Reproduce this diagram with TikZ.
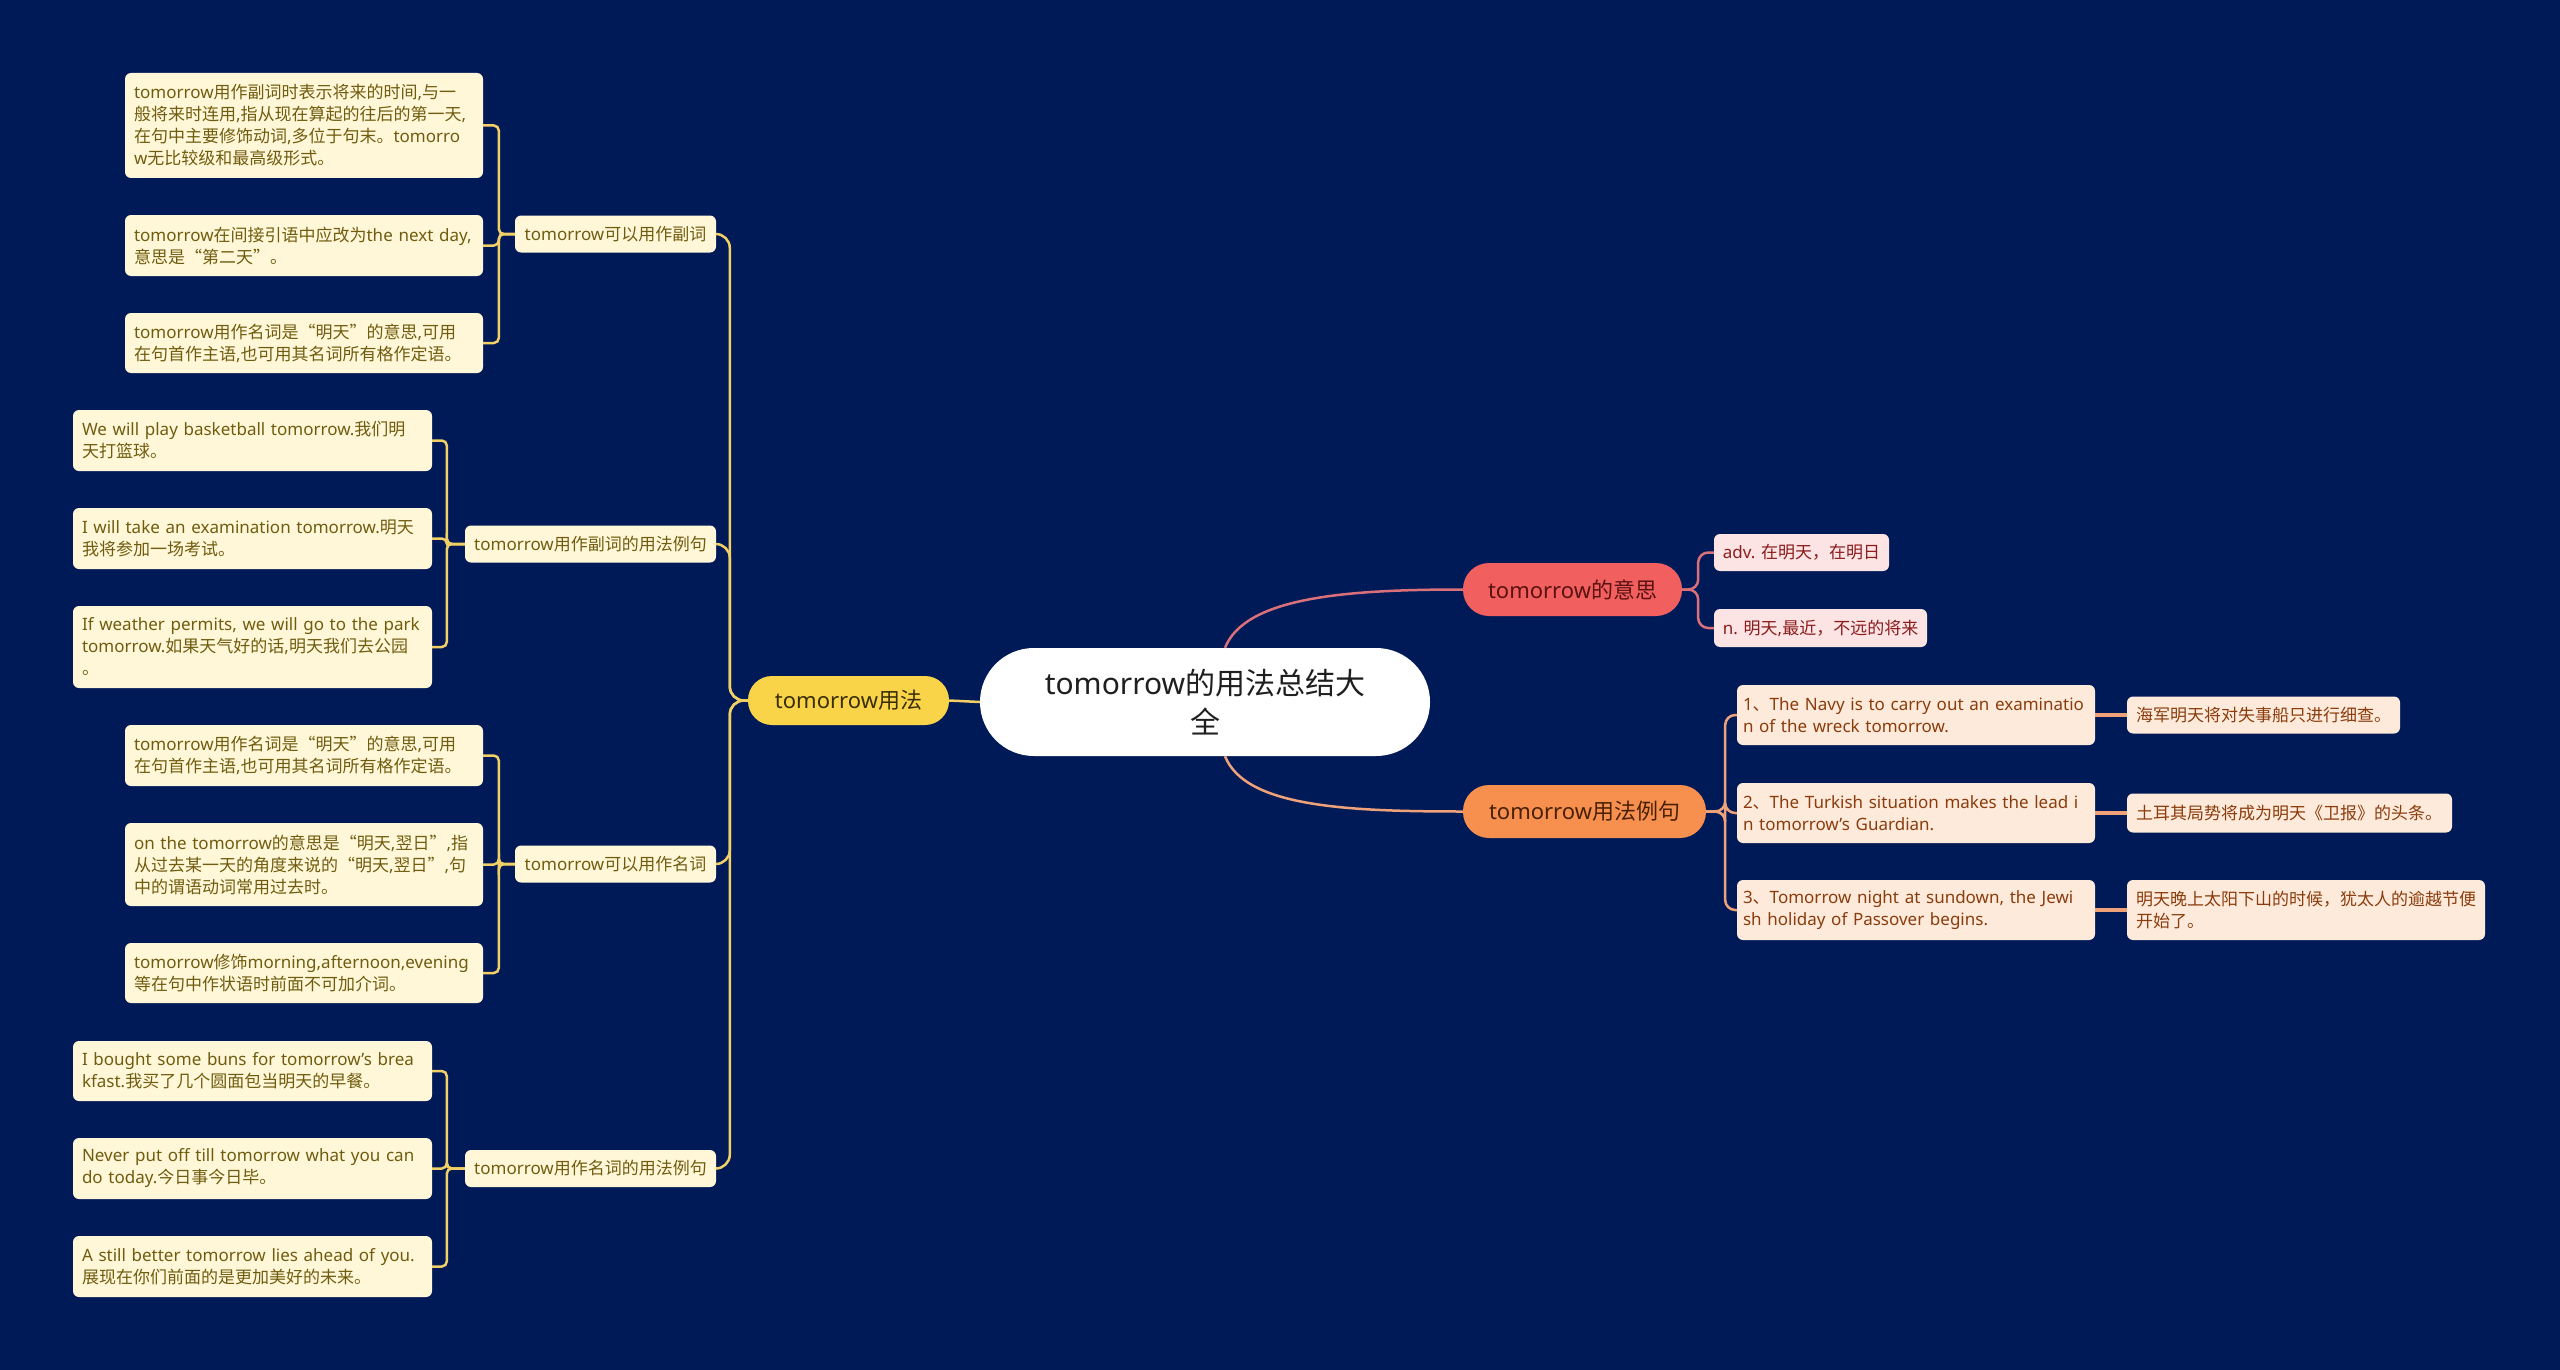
\documentclass[tikz,border=0pt]{standalone}
\usepackage{fontspec}
\setmainfont{Noto Sans}
\newfontfamily\cjkfont{Noto Sans CJK SC}
\newcount\cjkn
\newXeTeXintercharclass\cjkcls
\def\cjkrange#1#2{\cjkn=#1\relax\loop\ifnum\cjkn<#2\relax\XeTeXcharclass\cjkn=\cjkcls\advance\cjkn by 1\relax\repeat}
\cjkrange{"3000}{"3040}
\cjkrange{"4E00}{"A000}
\cjkrange{"FF00}{"FFF0}
\XeTeXcharclass"201C=\cjkcls
\XeTeXcharclass"201D=\cjkcls
\XeTeXinterchartoks 0 \cjkcls = {\cjkfont}
\XeTeXinterchartoks 4095 \cjkcls = {\cjkfont}
\XeTeXinterchartoks \cjkcls 0 = {\rmfamily}
\XeTeXinterchartoks \cjkcls 4095 = {\rmfamily}
\XeTeXinterchartokenstate=1
\hyphenpenalty=10000
\exhyphenpenalty=10000
\newcommand\leaffont{\fontsize{17}{22}\selectfont}
\definecolor{bgc}{HTML}{001A57}
\definecolor{cream}{HTML}{FFF7D7}
\definecolor{olivet}{HTML}{705C10}
\definecolor{ymain}{HTML}{F9D449}
\definecolor{ymaint}{HTML}{3A2E05}
\definecolor{ylinec}{HTML}{F2D065}
\definecolor{rmain}{HTML}{F25F5F}
\definecolor{rmaint}{HTML}{5A1212}
\definecolor{pinkf}{HTML}{FDE4E4}
\definecolor{pinkt}{HTML}{8A1C1C}
\definecolor{rlinec}{HTML}{D9707A}
\definecolor{omain}{HTML}{F7904E}
\definecolor{omaint}{HTML}{4A2005}
\definecolor{peachf}{HTML}{FEEADB}
\definecolor{peacht}{HTML}{8A3C0C}
\definecolor{olinec}{HTML}{EFA27A}
\tikzset{
  centerbox/.style={fill=white, text=black!88, rounded corners=53.9, minimum width=450, minimum height=108, align=center, inner sep=0, font=\fontsize{30}{39}\selectfont},
  pill/.style={rounded corners=26, minimum height=53, inner sep=0, font=\fontsize{22}{26}\selectfont},
  midbox/.style={fill=cream, text=olivet, rounded corners=6, minimum height=37, inner sep=0, font=\leaffont},
  leafbox/.style={fill=cream, text=olivet, rounded corners=6, inner xsep=9, inner ysep=0, align=left, font=\leaffont},
  pinkbox/.style={fill=pinkf, text=pinkt, rounded corners=6, inner sep=0, minimum height=37, font=\leaffont},
  peachbox/.style={fill=peachf, text=peacht, rounded corners=6, inner xsep=9, inner ysep=0, align=left, font=\leaffont},
  ylink/.style={draw=ylinec, line width=2.5},
  rlink/.style={draw=rlinec, line width=2.5},
  olink/.style={draw=olinec, line width=2.5},
}
\begin{document}
\begin{tikzpicture}[x=1pt,y=-1pt]
\fill[bgc] (0,0) rectangle (2560,1370);
\useasboundingbox (0,0) rectangle (2560,1370);

% root and main branches
\node[centerbox] (c) at (1205,702) {tomorrow的用法总结大\\全};
\node[pill, fill=ymain, text=ymaint, minimum width=201, minimum height=49, rounded corners=24] (m1) at (848.5,700.5) {tomorrow用法};
\node[pill, fill=rmain, text=rmaint, minimum width=219] (m2) at (1572.5,589.5) {tomorrow的意思};
\node[pill, fill=omain, text=omaint, minimum width=243] (m3) at (1584.5,811.5) {tomorrow用法例句};

% left level 2
\node[midbox, minimum width=201] (A) at (615.5,234) {tomorrow可以用作副词};
\node[midbox, minimum width=251] (B) at (590.5,544) {tomorrow用作副词的用法例句};
\node[midbox, minimum width=201] (C) at (615.5,864) {tomorrow可以用作名词};
\node[midbox, minimum width=251] (D) at (590.5,1168.5) {tomorrow用作名词的用法例句};

% leaves of A
\node[leafbox, text width=340, minimum height=105] (A1) at (304,125.5) {tomorrow用作副词时表示将来的时间,与一\\般将来时连用,指从现在算起的往后的第一天,\\在句中主要修饰动词,多位于句末。tomorro\\w无比较级和最高级形式。};
\node[leafbox, text width=340, minimum height=61] (A2) at (304,245.5) {tomorrow在间接引语中应改为the next day,\\意思是“第二天”。};
\node[leafbox, text width=340, minimum height=60] (A3) at (304,343) {tomorrow用作名词是“明天”的意思,可用\\在句首作主语,也可用其名词所有格作定语。};

% leaves of B
\node[leafbox, text width=341, minimum height=61] (B1) at (252.5,440.5) {We will play basketball tomorrow.我们明\\天打篮球。};
\node[leafbox, text width=341, minimum height=61] (B2) at (252.5,538.5) {I will take an examination tomorrow.明天\\我将参加一场考试。};
\node[leafbox, text width=341, minimum height=82] (B3) at (252.5,647) {If weather permits, we will go to the park\\tomorrow.如果天气好的话,明天我们去公园\\。};

% leaves of C
\node[leafbox, text width=340, minimum height=61] (C1) at (304,755.5) {tomorrow用作名词是“明天”的意思,可用\\在句首作主语,也可用其名词所有格作定语。};
\node[leafbox, text width=340, minimum height=83] (C2) at (304,864.5) {on the tomorrow的意思是“明天,翌日”,指\\从过去某一天的角度来说的“明天,翌日”,句\\中的谓语动词常用过去时。};
\node[leafbox, text width=340, minimum height=60] (C3) at (304,973) {tomorrow修饰morning,afternoon,evening\\等在句中作状语时前面不可加介词。};

% leaves of D
\node[leafbox, text width=341, minimum height=60] (D1) at (252.5,1071) {I bought some buns for tomorrow's brea\\kfast.我买了几个圆面包当明天的早餐。};
\node[leafbox, text width=341, minimum height=61] (D2) at (252.5,1168.5) {Never put off till tomorrow what you can\\do today.今日事今日毕。};
\node[leafbox, text width=341, minimum height=61] (D3) at (252.5,1266.5) {A still better tomorrow lies ahead of you.\\展现在你们前面的是更加美好的未来。};

% right: meaning
\node[pinkbox, minimum width=175] (P1) at (1801.5,552.5) {adv. 在明天，在明日};
\node[pinkbox, minimum width=213, minimum height=38] (P2) at (1820.5,628) {n. 明天,最近，不远的将来};

% right: examples
\node[peachbox, inner xsep=6, text width=346, minimum height=60] (E1) at (1916,715) {1、The Navy is to carry out an examinatio\\n of the wreck tomorrow.};
\node[peachbox, inner xsep=6, text width=346, minimum height=60] (E2) at (1916,813) {2、The Turkish situation makes the lead i\\n tomorrow's Guardian.};
\node[peachbox, inner xsep=6, text width=346, minimum height=60] (E3) at (1916,910) {3、Tomorrow night at sundown, the Jewi\\sh holiday of Passover begins.};
\node[peachbox, text width=255, minimum height=37] (T1) at (2263.5,715) {海军明天将对失事船只进行细查。};
\node[peachbox, text width=307, minimum height=39] (T2) at (2289.5,813) {土耳其局势将成为明天《卫报》的头条。};
\node[peachbox, text width=340, minimum height=60] (T3) at (2306,910) {明天晚上太阳下山的时候，犹太人的逾越节便\\开始了。};

% connectors: left
\draw[ylink] (c.west) -- (m1.east);
\foreach \n in {A,B,C,D}
  \draw[ylink, rounded corners=14] (m1.west) -- ++(-18,0) |- (\n.east);
\foreach \n in {A1,A2,A3}
  \draw[ylink, rounded corners=5] (A.west) -- ++(-16,0) |- (\n.east);
\foreach \n in {B1,B2,B3}
  \draw[ylink, rounded corners=5] (B.west) -- ++(-18,0) |- (\n.east);
\foreach \n in {C1,C2,C3}
  \draw[ylink, rounded corners=5] (C.west) -- ++(-16,0) |- (\n.east);
\foreach \n in {D1,D2,D3}
  \draw[ylink, rounded corners=5] (D.west) -- ++(-18,0) |- (\n.east);

% connectors: right
\draw[rlink] ([xshift=20]c.north) .. controls +(20,-50) and +(-120,0) .. (m2.west);
\draw[olink] ([xshift=20]c.south) .. controls +(20,50) and +(-120,0) .. (m3.west);
\foreach \n in {P1,P2}
  \draw[rlink, rounded corners=10] (m2.east) -- ++(16,0) |- (\n.west);
\foreach \n in {E1,E2,E3}
  \draw[olink, rounded corners=10] (m3.east) -- ++(19,0) |- (\n.west);
\draw[olink, line width=3.5] (E1.east) -- (T1.west);
\draw[olink, line width=3.5] (E2.east) -- (T2.west);
\draw[olink, line width=3.5] (E3.east) -- (T3.west);
\end{tikzpicture}
\end{document}
